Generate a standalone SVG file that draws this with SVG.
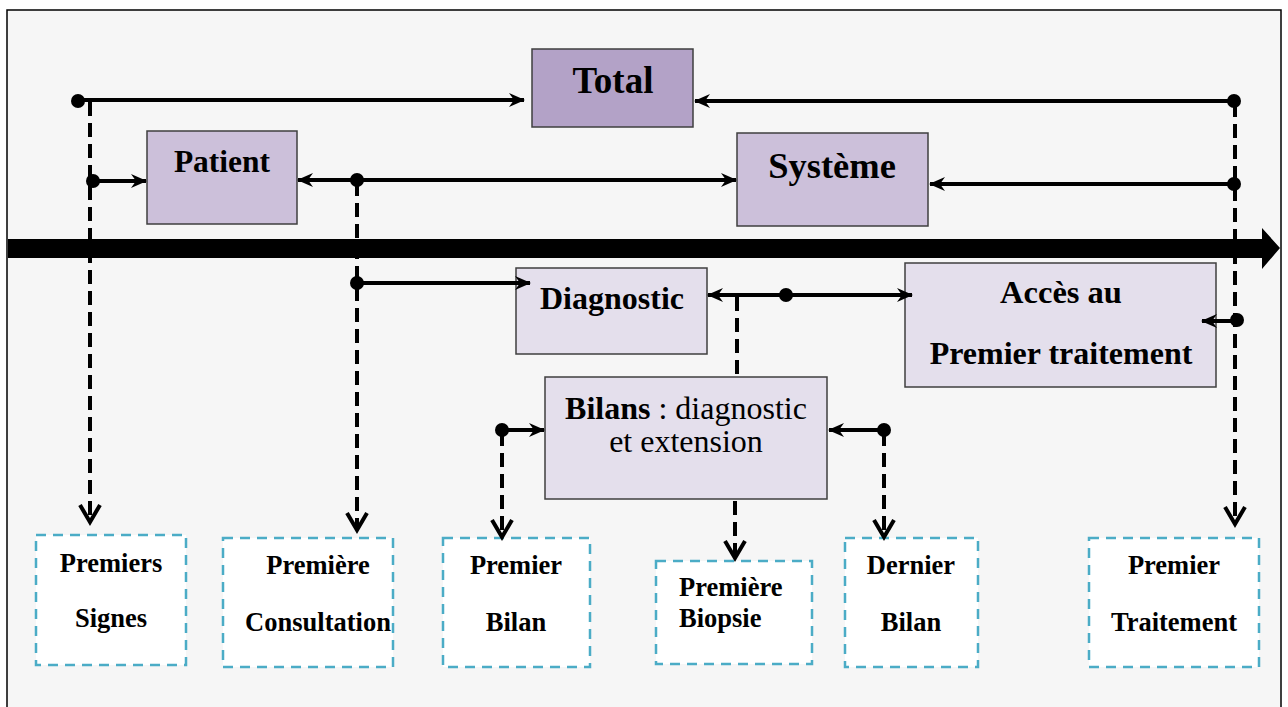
<svg xmlns="http://www.w3.org/2000/svg" width="1288" height="707" viewBox="0 0 1288 707">
  <style>
    .box { stroke: #3f3f3f; stroke-width: 1.5; }
    .dark { fill: #b3a2c7; }
    .mid { fill: #ccc0da; }
    .light { fill: #e4dfec; }
    .event { fill: #ffffff; stroke: #4bacc6; stroke-width: 2.5; stroke-dasharray: 10 7; }
    .t { font-family: "Liberation Serif", "Times New Roman", serif; font-weight: bold; fill: #000; text-anchor: middle; }
    .left { text-anchor: start; }
    .reg { font-weight: normal; }
    .solid { stroke: #000; stroke-width: 4; fill: none; }
    .dash { stroke: #000; stroke-width: 4; fill: none; stroke-dasharray: 14 7; }
    .vhead { stroke: #000; stroke-width: 4; fill: none; stroke-linejoin: miter; }
    .dot { fill: #000; }
  </style>
  <defs>
    <marker id="arr" markerUnits="userSpaceOnUse" markerWidth="16" markerHeight="14" viewBox="0 0 16 14" refX="15" refY="7" orient="auto">
      <path d="M0,0 L16,7 L0,14 L5,7 Z" fill="#000"/>
    </marker>
  </defs>

  <!-- page frame -->
  <rect x="0" y="0" width="1288" height="707" fill="#ffffff"/>
  <rect x="7" y="10" width="1274" height="710" fill="#f6f6f6" stroke="#000" stroke-width="1.5"/>

  <!-- time axis -->
  <path d="M8,239 L1262,239 L1262,228 L1280,248 L1262,269 L1262,258 L8,258 Z" fill="#000"/>

  <!-- actors -->
  <g id="total">
    <rect class="box dark" x="532" y="49" width="161" height="78"/>
    <text class="t" x="613" y="93" font-size="37">Total</text>
  </g>
  <g id="patient">
    <rect class="box mid" x="147" y="131" width="150" height="93"/>
    <text class="t" x="222" y="172" font-size="31.5">Patient</text>
  </g>
  <g id="systeme">
    <rect class="box mid" x="737" y="133" width="191" height="93"/>
    <text class="t" x="832" y="178" font-size="36.5">Système</text>
  </g>

  <!-- stages -->
  <g id="diagnostic">
    <rect class="box light" x="516" y="268" width="191" height="86"/>
    <text class="t" x="612" y="309" font-size="32">Diagnostic</text>
  </g>
  <g id="acces">
    <rect class="box light" x="905" y="263" width="311" height="124"/>
    <text class="t" x="1061" y="303" font-size="32.5">Accès au</text>
    <text class="t" x="1061" y="364" font-size="32">Premier traitement</text>
  </g>
  <g id="bilans">
    <rect class="box light" x="545" y="377" width="282" height="122"/>
    <text class="t" x="686" y="419" font-size="32">Bilans<tspan class="reg"> : diagnostic</tspan></text>
    <text class="t reg" x="686" y="452" font-size="32">et extension</text>
  </g>

  <!-- milestones -->
  <g id="premiers-signes">
    <rect class="event" x="36" y="535" width="150" height="130"/>
    <text class="t" x="111" y="572" font-size="26.5">Premiers</text>
    <text class="t" x="111" y="627" font-size="26.5">Signes</text>
  </g>
  <g id="premiere-consultation">
    <rect class="event" x="223" y="538" width="170" height="129"/>
    <text class="t" x="318" y="574" font-size="26.5">Première</text>
    <text class="t" x="318" y="631" font-size="26.5">Consultation</text>
  </g>
  <g id="premier-bilan">
    <rect class="event" x="443" y="538" width="147" height="129"/>
    <text class="t" x="516" y="574" font-size="26.5">Premier</text>
    <text class="t" x="516" y="631" font-size="26.5">Bilan</text>
  </g>
  <g id="premiere-biopsie">
    <rect class="event" x="656" y="561" width="156" height="103"/>
    <text class="t left" x="679" y="596" font-size="26.5">Première</text>
    <text class="t left" x="679" y="627" font-size="26.5">Biopsie</text>
  </g>
  <g id="dernier-bilan">
    <rect class="event" x="845" y="538" width="133" height="129"/>
    <text class="t" x="911" y="574" font-size="26.5">Dernier</text>
    <text class="t" x="911" y="631" font-size="26.5">Bilan</text>
  </g>
  <g id="premier-traitement">
    <rect class="event" x="1089" y="538" width="170" height="129"/>
    <text class="t" x="1174" y="574" font-size="26.5">Premier</text>
    <text class="t" x="1174" y="631" font-size="26.5">Traitement</text>
  </g>

  <!-- connectors -->
  <g id="connectors">
    <!-- Total row -->
    <line class="solid" x1="78" y1="100" x2="524" y2="100" marker-end="url(#arr)"/>
    <line class="solid" x1="1234" y1="101" x2="695" y2="101" marker-end="url(#arr)"/>
    <!-- Patient / Système row -->
    <line class="solid" x1="93" y1="181" x2="146" y2="181" marker-end="url(#arr)"/>
    <line class="solid" x1="357" y1="180" x2="298" y2="180" marker-end="url(#arr)"/>
    <line class="solid" x1="357" y1="180" x2="736" y2="180" marker-end="url(#arr)"/>
    <line class="solid" x1="1234" y1="184" x2="930" y2="184" marker-end="url(#arr)"/>
    <!-- Diagnostic / Accès row -->
    <line class="solid" x1="357" y1="283" x2="530" y2="283" marker-end="url(#arr)"/>
    <line class="solid" x1="786" y1="295" x2="708" y2="295" marker-end="url(#arr)"/>
    <line class="solid" x1="786" y1="295" x2="912" y2="295" marker-end="url(#arr)"/>
    <line class="solid" x1="1237" y1="321" x2="1202" y2="321" marker-end="url(#arr)"/>
    <!-- Bilans side links -->
    <line class="solid" x1="502" y1="430" x2="544" y2="430" marker-end="url(#arr)"/>
    <line class="solid" x1="884" y1="430" x2="829" y2="430" marker-end="url(#arr)"/>

    <!-- dashed drops to milestones -->
    <line class="dash" x1="90" y1="102" x2="90" y2="520"/>
    <line class="dash" x1="357" y1="182" x2="357" y2="528"/>
    <line class="dash" x1="502" y1="432" x2="502" y2="535"/>
    <line class="dash" x1="737" y1="297" x2="737" y2="376"/>
    <line class="dash" x1="735" y1="501" x2="735" y2="556"/>
    <line class="dash" x1="884" y1="432" x2="884" y2="535"/>
    <line class="dash" x1="1235" y1="103" x2="1235" y2="522"/>

    <!-- open heads at the milestone end -->
    <path class="vhead" d="M80,505 L90,522 L100,505"/>
    <path class="vhead" d="M347,513 L357,530 L367,513"/>
    <path class="vhead" d="M492,520 L502,537 L512,520"/>
    <path class="vhead" d="M725,541 L735,558 L745,541"/>
    <path class="vhead" d="M874,520 L884,537 L894,520"/>
    <path class="vhead" d="M1225,507 L1235,524 L1245,507"/>

    <!-- junction dots -->
    <circle class="dot" cx="78" cy="101" r="7"/>
    <circle class="dot" cx="93" cy="181" r="7"/>
    <circle class="dot" cx="357" cy="180" r="7"/>
    <circle class="dot" cx="357" cy="283" r="7"/>
    <circle class="dot" cx="1234" cy="101" r="7"/>
    <circle class="dot" cx="1234" cy="184" r="7"/>
    <circle class="dot" cx="786" cy="295" r="7"/>
    <circle class="dot" cx="1237" cy="320" r="7"/>
    <circle class="dot" cx="502" cy="430" r="7"/>
    <circle class="dot" cx="884" cy="430" r="7"/>
  </g>
</svg>
